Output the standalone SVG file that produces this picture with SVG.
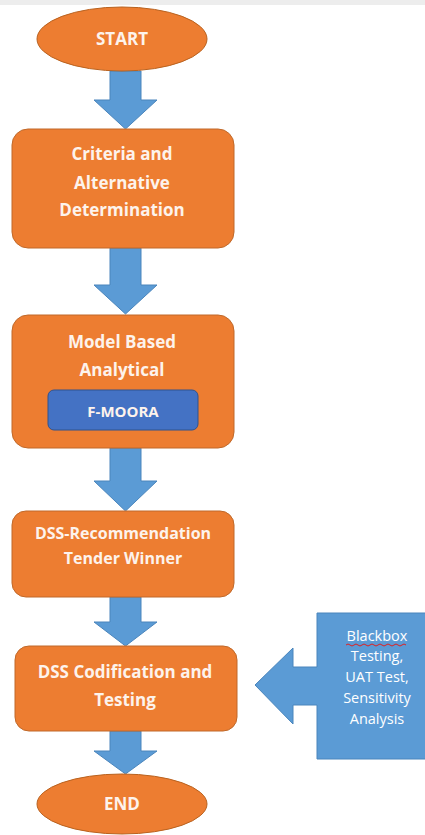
<svg xmlns="http://www.w3.org/2000/svg" width="425" height="835" viewBox="0 0 425 835">
<style>
.term{fill:#ED7D31;stroke:#B9621F;stroke-width:1}
.box{fill:#ED7D31;stroke:#C0692A;stroke-width:1}
.arr{fill:#5B9BD5;stroke:#4A85BC;stroke-width:1}
.t{font-family:"Open Sans","Liberation Sans",sans-serif;font-weight:bold;fill:#FDF3EC;text-anchor:middle}
.s{font-family:"Open Sans","Liberation Sans",sans-serif;fill:#FFFFFF;text-anchor:middle}
</style>
<rect x="0" y="0" width="425" height="835" fill="#FFFFFF"/>
<rect x="0" y="0" width="425" height="5" fill="#EDEDED"/>
<g id="connectors">
<path class="arr" d="M110,71 H141 V100 H157 L125.5,129 L94,100 H110 Z"/>
<path class="arr" d="M110,248 H141 V285 H157 L125.5,314 L94,285 H110 Z"/>
<path class="arr" d="M110,448 H141 V481 H157 L125.5,511 L94,481 H110 Z"/>
<path class="arr" d="M110,597 H141 V622 H157 L125.5,646 L94,622 H110 Z"/>
<path class="arr" d="M110,731 H141 V751 H157 L125.5,774 L94,751 H110 Z"/>
</g>
<g id="start">
<ellipse class="term" cx="122" cy="39" rx="85" ry="32"/>
<text class="t" x="122" y="45" font-size="17">START</text>
</g>
<g id="criteria">
<rect class="box" x="12" y="129" width="222" height="119" rx="16"/>
<text class="t" x="122" y="160" font-size="17">Criteria and</text>
<text class="t" x="122" y="189" font-size="17">Alternative</text>
<text class="t" x="122" y="216" font-size="17">Determination</text>
</g>
<g id="model">
<rect class="box" x="12" y="315" width="222" height="133" rx="16"/>
<text class="t" x="122" y="348" font-size="17">Model Based</text>
<text class="t" x="122" y="376" font-size="17">Analytical</text>
<g id="fmoora">
<rect x="48" y="390" width="150" height="40" rx="6" fill="#4472C4" stroke="#2F528F" stroke-width="1"/>
<text class="t" x="123" y="417" font-size="15" fill="#FFFFFF">F-MOORA</text>
</g>
</g>
<g id="recommendation">
<rect class="box" x="12" y="511" width="222" height="86" rx="14"/>
<text class="t" x="123" y="539" font-size="16">DSS-Recommendation</text>
<text class="t" x="123" y="564" font-size="16">Tender Winner</text>
</g>
<g id="codification">
<rect class="box" x="15" y="646" width="222" height="85" rx="14"/>
<text class="t" x="125" y="678" font-size="17">DSS Codification and</text>
<text class="t" x="125" y="706" font-size="17">Testing</text>
</g>
<g id="end">
<ellipse class="term" cx="122" cy="804" rx="85" ry="30"/>
<text class="t" x="122" y="810" font-size="17">END</text>
</g>
<g id="testing">
<path class="arr" d="M317,613 H426 V759 H317 V705 H293 V724 L255,685 L293,648 V667 H317 Z"/>
<text class="s" x="377" y="641" font-size="14.5">Blackbox</text>
<path d="M346,645 q2,-2 4,0 t4,0 t4,0 t4,0 t4,0 t4,0 t4,0 t4,0 t4,0 t4,0 t4,0 t4,0 t4,0 t4,0 t4,0" fill="none" stroke="#E02020" stroke-width="1"/>
<text class="s" x="377" y="661" font-size="14.5">Testing,</text>
<text class="s" x="377" y="682" font-size="14.5">UAT Test,</text>
<text class="s" x="377" y="703" font-size="14.5">Sensitivity</text>
<text class="s" x="377" y="724" font-size="14.5">Analysis</text>
</g>
</svg>
